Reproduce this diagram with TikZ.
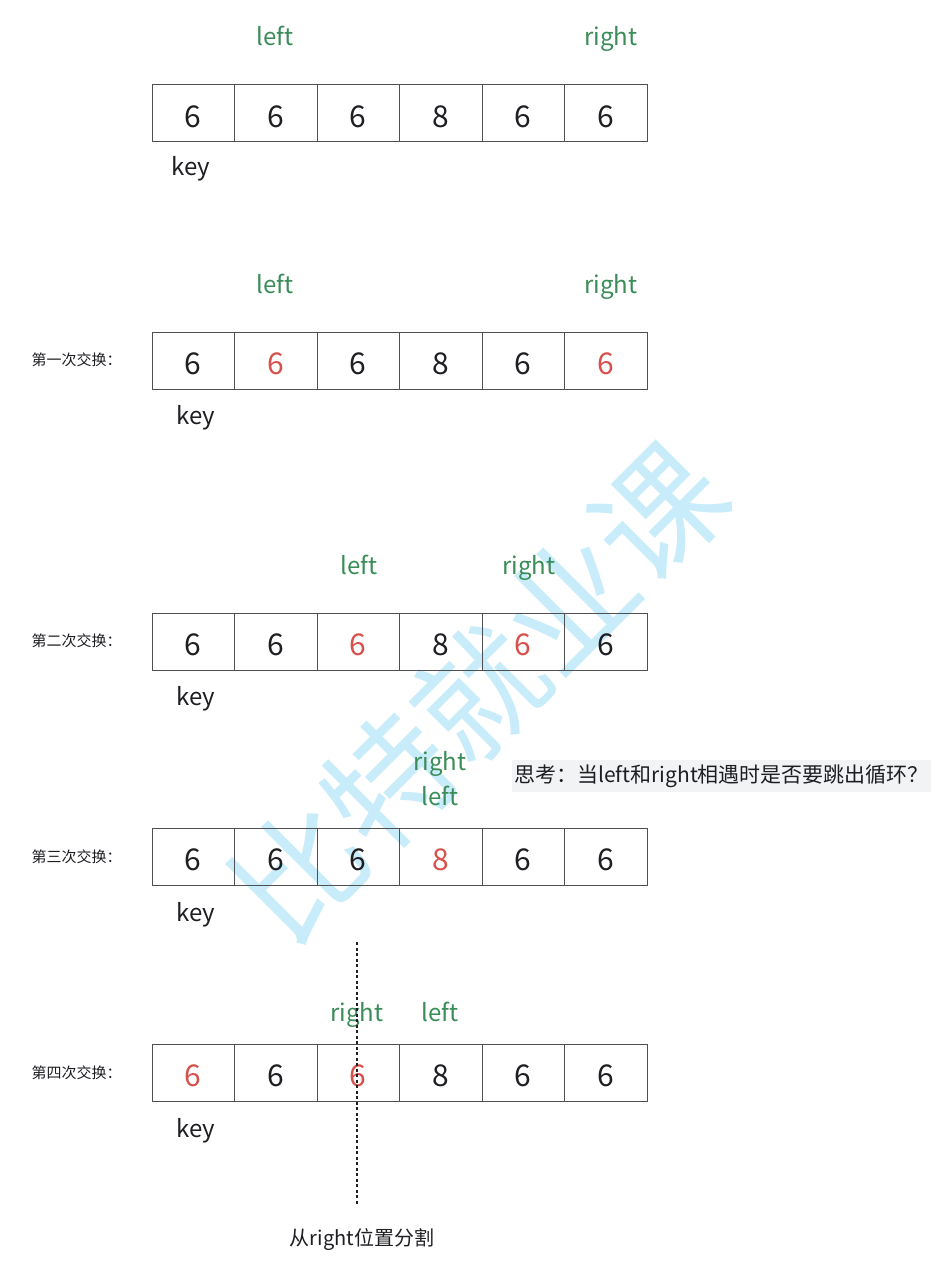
\documentclass[tikz,border=0pt]{standalone}
\usepackage{fontspec}
\setmainfont{Noto Sans CJK SC}
\definecolor{txt}{RGB}{30,30,35}
\definecolor{hl}{RGB}{215,80,75}
\definecolor{ptrgreen}{RGB}{58,140,88}
\definecolor{boxgray}{RGB}{80,80,80}
\definecolor{wmblue}{RGB}{200,236,250}
\definecolor{qgray}{RGB}{242,243,245}
\newcommand\arrrow[3]{%
  \foreach \v/\c [count=\i] in {#3} {
    \node[cell, text=\c] (#1c\i) at ({152+82.5*(\i-0.5)},#2) {\v};
  }%
}
\begin{document}
\begin{tikzpicture}[x=1pt,y=-1pt,
  cell/.style={draw=boxgray, line width=1pt, minimum width=82.5pt, minimum height=57pt, inner sep=0pt, text height=27.5pt, text depth=0pt, font=\fontsize{30}{30}\selectfont},
  ptr/.style={text=ptrgreen, inner sep=0pt, anchor=base, font=\fontsize{24}{24}\selectfont},
  keylbl/.style={text=txt, inner sep=0pt, anchor=base, font=\fontsize{24}{24}\selectfont},
  side/.style={text=txt, inner sep=0pt, font=\fontsize{15}{15}\selectfont}]
\useasboundingbox (0,0) rectangle (941,1281);
% watermark
\node[rotate=45, text=wmblue, inner sep=0pt, font=\fontsize{127}{127}\selectfont] (wm) at (479,692) {比特就业课};
% row 1
\arrrow{a}{113.5}{6/txt,6/txt,6/txt,8/txt,6/txt,6/txt}
\node[ptr] (aL) at (275,46) {left};
\node[ptr] (aR) at (611,46) {right};
\node[keylbl] (aK) at (191,176) {key};
% row 2
\arrrow{b}{360.5}{6/txt,6/hl,6/txt,8/txt,6/txt,6/hl}
\node[ptr] (bL) at (275,293) {left};
\node[ptr] (bR) at (611,293) {right};
\node[keylbl] (bK) at (196,424) {key};
\node[side] (bS) at (76.5,360) {第一次交换：};
% row 3
\arrrow{c}{641.5}{6/txt,6/txt,6/hl,8/txt,6/hl,6/txt}
\node[ptr] (cL) at (359,574) {left};
\node[ptr] (cR) at (529,574) {right};
\node[keylbl] (cK) at (196,705) {key};
\node[side] (cS) at (76.5,641) {第二次交换：};
% row 4
\arrrow{d}{856.5}{6/txt,6/txt,6/txt,8/hl,6/txt,6/txt}
\node[ptr] (dR) at (440,770) {right};
\node[ptr] (dL) at (440,805) {left};
\node[keylbl] (dK) at (196,921) {key};
\node[side] (dS) at (76.5,857) {第三次交换：};
\node[fill=qgray, anchor=west, inner xsep=2pt, inner ysep=5pt, text=txt, font=\fontsize{21}{21}\selectfont] (q) at (512,776) {思考：当left和right相遇时是否要跳出循环？};
% row 5
\arrrow{e}{1072.5}{6/hl,6/txt,6/hl,8/txt,6/txt,6/txt}
\node[ptr] (eR) at (357,1021) {right};
\node[ptr] (eL) at (440,1021) {left};
\node[keylbl] (eK) at (196,1137) {key};
\node[side] (eS) at (76.5,1073) {第四次交换：};
% split line
\coordinate (s1) at (357,942);
\coordinate (s2) at (357,1205);
\draw[line width=1.6pt, dash pattern=on 3pt off 2.5pt, txt] (s1) -- (s2);
\node[text=txt, inner sep=0pt, font=\fontsize{20}{20}\selectfont] (split) at (362,1240) {从right位置分割};
\end{tikzpicture}
\end{document}
